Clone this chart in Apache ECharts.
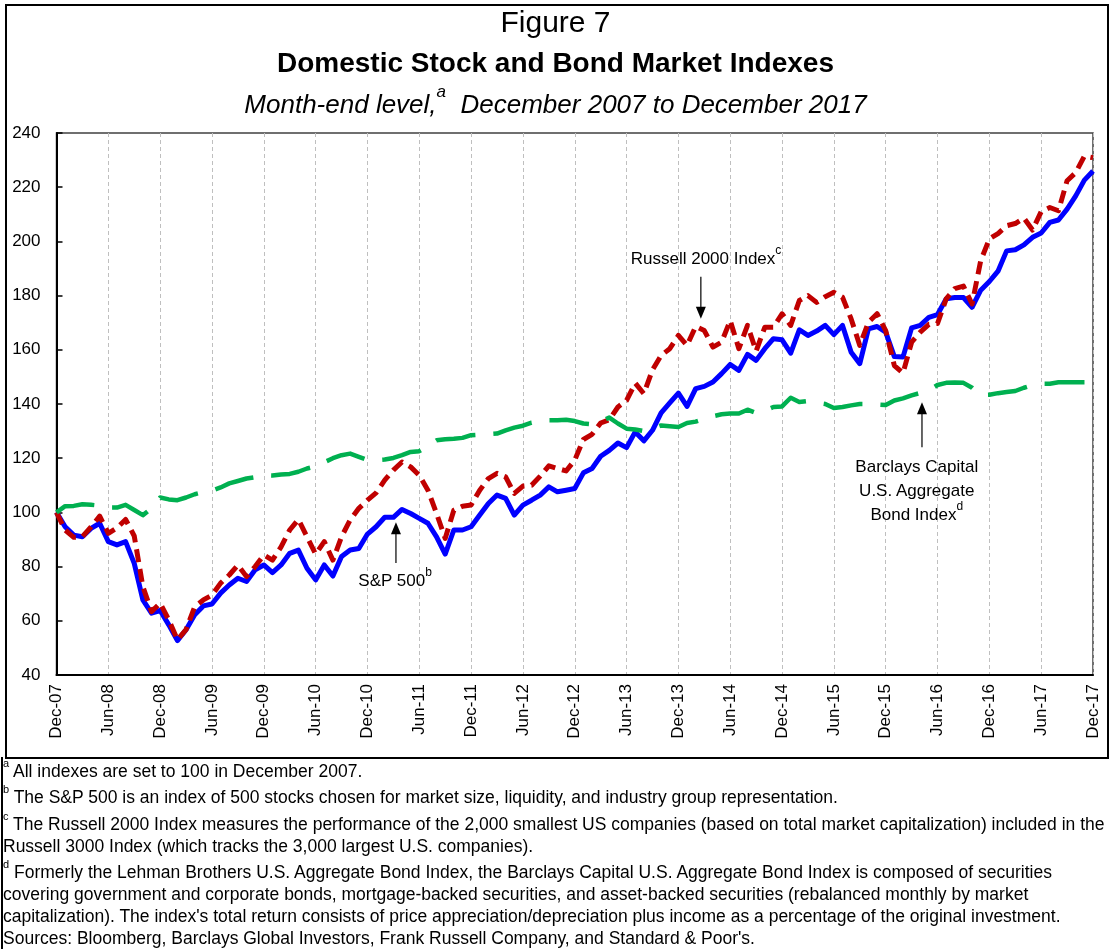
<!DOCTYPE html>
<html>
<head>
<meta charset="utf-8">
<script src="https://cdn.jsdelivr.net/npm/echarts@6/dist/echarts.min.js"></script>
<style>
  html, body { margin: 0; padding: 0; background: #fff; }
  #wrap { position: relative; width: 1111px; height: 949px; overflow: hidden; font-family: 'Liberation Sans', Arial, sans-serif; color: #000; }
  #chart { position: absolute; left: 0; top: 0; width: 1111px; height: 949px; }
  .box { position: absolute; border: 2px solid #000; pointer-events: none; }
  .t { position: absolute; left: 0; width: 1111px; text-align: center; white-space: nowrap; }
  .note { position: absolute; left: 3px; font-size: 17.5px; line-height: 22px; white-space: nowrap; }
  .note sup { font-size: 11px; line-height: 0; vertical-align: top; position: relative; top: 3px; }
  .ann sup { font-size: 12px; line-height: 0; vertical-align: top; position: relative; top: 3px; }
  .ann { position: absolute; font-size: 17px; line-height: 24px; white-space: nowrap; text-align: center; transform: translate(-50%, -50%); }
</style>
</head>
<body>
<div id="wrap">
  <div id="chart"></div>
  <div class="box" style="left:5px;top:4px;width:1100px;height:751px;"></div>
  <div class="box" style="left:1px;top:757px;width:1110px;height:200px;border-right:none;border-bottom:none;border-top:none;"></div>
  <div class="t" style="top:5px;font-size:30px;line-height:34px;">Figure 7</div>
  <div class="t" style="top:47px;font-size:28px;line-height:32px;font-weight:bold;">Domestic Stock and Bond Market Indexes</div>
  <div class="t" style="top:88px;font-size:26px;line-height:32px;font-style:italic;">Month-end level,<sup style="font-size:17px;vertical-align:top;line-height:0;position:relative;top:4px;">a</sup>&nbsp; December 2007 to December 2017</div>
  <div class="note" style="top:760px;"><sup>a</sup> All indexes are set to 100 in December 2007.</div>
  <div class="note" style="top:786px;"><sup>b</sup> The S&amp;P 500 is an index of 500 stocks chosen for market size, liquidity, and industry group representation.</div>
  <div class="note" style="top:813px;"><sup>c</sup> The Russell 2000 Index measures the performance of the 2,000 smallest US companies (based on total market capitalization) included in the</div>
  <div class="note" style="top:835px;">Russell 3000 Index (which tracks the 3,000 largest U.S. companies).</div>
  <div class="note" style="top:861px;"><sup>d</sup> Formerly the Lehman Brothers U.S. Aggregate Bond Index, the Barclays Capital U.S. Aggregate Bond Index is composed of securities</div>
  <div class="note" style="top:883px;">covering government and corporate bonds, mortgage-backed securities, and asset-backed securities (rebalanced monthly by market</div>
  <div class="note" style="top:905px;">capitalization). The index's total return consists of price appreciation/depreciation plus income as a percentage of the original investment.</div>
  <div class="note" style="top:927px;">Sources: Bloomberg, Barclays Global Investors, Frank Russell Company, and Standard &amp; Poor's.</div>
</div>
<script>
const FONT = "'Liberation Sans', Arial, sans-serif"

// month-end categories, Dec-07 .. Dec-17
const MON = ['Jan', 'Feb', 'Mar', 'Apr', 'May', 'Jun', 'Jul', 'Aug', 'Sep', 'Oct', 'Nov', 'Dec']
const months = []
for (let i = 0; i <= 120; i++) {
  const m = (11 + i) % 12, y = 7 + Math.floor((11 + i) / 12)
  months.push(MON[m] + '-' + String(y).padStart(2, '0'))
}

// S&P 500 (total return, Dec-07 = 100)
const sp500 = [
  100, 94.7, 91.6, 91, 94.1, 96, 89.2, 88, 89.2, 81.2,
  67.7, 62.8, 63.8, 58.5, 52.7, 56.7, 62.2, 65.5, 66.2, 70.2,
  73.2, 75.7, 74.5, 78.8, 80.6, 77.8, 80.6, 84.9, 86.1, 79.4,
  75.1, 80.6, 76.5, 83.7, 86.1, 86.7, 92, 94.7, 98.2, 98.2,
  101.1, 99.6, 97.8, 96, 91, 84.6, 93.5, 93.5, 94.7, 99,
  103.3, 106.4, 105.2, 99, 102.7, 104.5, 106.4, 109.4, 107.6, 108.2,
  108.8, 114.6, 116.2, 120.7, 122.9, 125.6, 123.9, 129.7, 126.4, 130.3,
  136.7, 140.4, 144, 139.1, 145.7, 146.5, 148.1, 151.2, 154.6, 152.4,
  158.3, 156.1, 160.4, 164.1, 163.7, 158.8, 167.4, 165.3, 166.9, 169,
  165.6, 169, 159.1, 154.9, 167.7, 168.6, 166.5, 157.5, 157.3, 168.1,
  169, 172, 173, 178.8, 179.3, 179.3, 175.7, 182, 185.2, 189,
  196.5, 196.9, 198.7, 201.5, 203.1, 207, 207.9, 211.9, 216.8, 222.6,
  226,
]

// Russell 2000
const russell2000 = [
  100, 93.5, 90.8, 91, 94.7, 98.6, 92.3, 94.3, 97.4, 91.3,
  72.6, 63.4, 66.5, 60.3, 53, 56.7, 65.2, 67.7, 69.5, 73.9,
  76.9, 80.6, 76.3, 80, 84.3, 82.4, 87.3, 93.5, 97.4, 91,
  84.6, 89.2, 82.4, 91, 97.2, 101.5, 104.5, 107.2, 111.9, 115.6,
  118.6, 116.8, 113.7, 108.2, 99.6, 90.4, 100.8, 102.3, 102.7, 108.2,
  112.5, 114.4, 113.1, 107, 109.7, 110, 113.4, 117.2, 116.2, 115.3,
  119.3, 126.9, 128.8, 133, 134.2, 138.9, 141.3, 147.7, 143.8, 152.6,
  157.9, 160.4, 165.3, 161.6, 168.6, 167.1, 161, 162.8, 170.8, 160.4,
  169, 159.5, 168.3, 168.3, 173.3, 169, 178.2, 180, 177.5, 179.6,
  181.2, 179.4, 171.4, 161.6, 170.2, 173.3, 167.1, 154.2, 151.4, 162.8,
  166.5, 169.4, 169.7, 178.8, 182.6, 183.5, 176.9, 192.9, 200.9, 202.9,
  205.8, 206.6, 208.6, 204.2, 211, 212.5, 211.3, 222.4, 225.4, 231.5,
  230.9,
]

// Barclays Capital U.S. Aggregate Bond Index
const aggBond = [
  100, 102.3, 102.4, 103, 102.8, 102.5, 101.8, 101.8, 102.8, 100.9,
  99, 101.5, 105.5, 104.8, 104.5, 105.5, 106.7, 107.5, 108, 109.2,
  110.7, 111.6, 112.5, 113, 113.7, 113.6, 114, 114.2, 115, 116.2,
  117, 118.5, 120, 121.1, 121.7, 120.5, 119.3, 119.3, 119.5, 120.1,
  121.1, 122.3, 122.6, 124.5, 126.6, 127, 127.2, 127.5, 128.5, 128.7,
  128.9, 129.1, 130.3, 131.3, 132, 133.1, 133.5, 134, 134, 134.2,
  133.7, 132.8, 132.5, 133.5, 135, 132.8, 130.9, 130.6, 130, 131,
  132.1, 131.8, 131.5, 133, 133.5, 134.5, 135.5, 136.2, 136.5, 136.5,
  137.9, 136.7, 137.5, 138.9, 139.1, 142.3, 140.7, 141.1, 140.5, 140,
  138.5, 138.9, 139.5, 140, 140, 139.8, 139.6, 141.3, 142.1, 143.2,
  144.1, 145, 147, 147.8, 147.9, 147.8, 146, 143.3, 143.4, 144,
  144.4, 144.8, 146, 147, 147.5, 147.5, 148, 148, 148, 148,
  148,
]

const chart = echarts.init(document.getElementById('chart'), null, { renderer: 'canvas' })

const line = (name, data, color, width, type) => ({
  name, type: 'line', data, symbol: 'none', smooth: false,
  lineStyle: { color, width, type, cap: 'butt', join: 'round' },
})

chart.setOption({
  animation: false,
  textStyle: { fontFamily: FONT, color: '#000' },
  grid: { left: 56.5, right: 18, top: 133, bottom: 274, show: true, borderColor: '#404040', borderWidth: 1.5 },
  xAxis: {
    type: 'category', data: months, boundaryGap: false,
    axisLine: { lineStyle: { color: '#000', width: 2 } },
    axisTick: { show: false },
    axisLabel: { interval: 5, rotate: 90, color: '#000', fontSize: 17, fontFamily: FONT, margin: 9 },
    splitLine: { show: true, interval: 5, lineStyle: { color: '#bfbfbf', width: 1, type: [4, 3] } },
  },
  yAxis: {
    type: 'value', min: 40, max: 240, interval: 20,
    axisLine: { show: true, lineStyle: { color: '#000', width: 2 } },
    axisTick: { show: true, inside: true, length: 6, lineStyle: { color: '#000', width: 1.5 } },
    axisLabel: { color: '#000', fontSize: 17, fontFamily: FONT, margin: 16 },
    splitLine: { show: false },
  },
  series: [
    line('S&P 500', sp500, '#0000ff', 5, 'solid'),
    line('Russell 2000 Index', russell2000, '#c00000', 5, [13, 7]),
    line('Barclays Capital U.S. Aggregate Bond Index', aggBond, '#00b050', 4.5, [40, 18]),
  ],
})

// annotation anchors in data space: [month index, level]
const pt = (i, v) => {
  const f = Math.floor(i)
  const a = chart.convertToPixel({ gridIndex: 0 }, [f, v])
  const b = chart.convertToPixel({ gridIndex: 0 }, [f + 1, v])
  return [a[0] + (b[0] - a[0]) * (i - f), a[1]]
}
const arrow = (i, vFrom, vTo) => {
  const p0 = pt(i, vFrom), p1 = pt(i, vTo)
  const dir = p1[1] > p0[1] ? 1 : -1
  return [
    { type: 'line', shape: { x1: p0[0], y1: p0[1], x2: p1[0], y2: p1[1] - dir * 8 }, style: { stroke: '#000', lineWidth: 1.2 }, z: 20 },
    { type: 'polygon', shape: { points: [[p1[0], p1[1]], [p1[0] - 5, p1[1] - dir * 12], [p1[0] + 5, p1[1] - dir * 12]] }, style: { fill: '#000' }, z: 20 },
  ]
}
chart.setOption({
  graphic: [
    ...arrow(74.6, 187, 171.5),
    ...arrow(39.3, 81.3, 96.4),
    ...arrow(100.2, 124, 140.6),
  ],
})

const ann = (html, i, v) => {
  const [x, y] = pt(i, v)
  const d = document.createElement('div')
  d.className = 'ann'
  d.style.left = x + 'px'
  d.style.top = y + 'px'
  d.innerHTML = html
  document.getElementById('wrap').appendChild(d)
}
ann('Russell 2000 Index<sup>c</sup>', 75.2, 193.6)
ann('S&amp;P 500<sup>b</sup>', 39.2, 74.8)
ann('Barclays Capital<br>U.S. Aggregate<br>Bond Index<sup>d</sup>', 99.6, 107.8)
</script>
</body>
</html>
